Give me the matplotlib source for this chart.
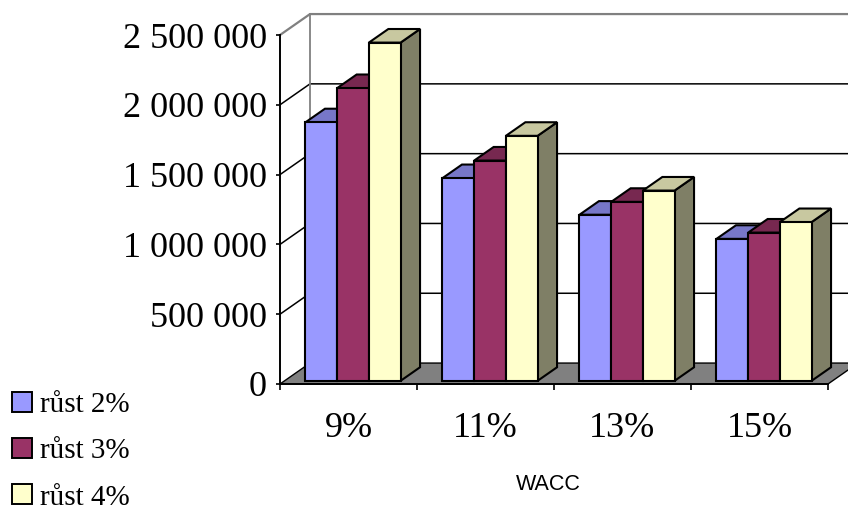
import matplotlib
matplotlib.use("Agg")
import matplotlib.pyplot as plt
from matplotlib.patches import Polygon, Patch
from matplotlib.ticker import FuncFormatter

# DCF value by WACC for three terminal growth rates
wacc = ["9%", "11%", "13%", "15%"]
series = ["růst 2%", "růst 3%", "růst 4%"]
rust_2 = [1852000, 1452000, 1190000, 1017000]
rust_3 = [2097000, 1578000, 1282000, 1062000]
rust_4 = [2423000, 1755000, 1363000, 1137000]
y_ticks = [0, 500000, 1000000, 1500000, 2000000, 2500000]

# excel-like 3d column palette: front, top, side
FRONT = ["#9999FF", "#993366", "#FFFFCC"]
TOP = ["#7777C8", "#772850", "#C8C8A0"]
SIDE = ["#4D4D80", "#4D1A33", "#7F7F66"]

SERIF = "Liberation Serif"
SANS = "Liberation Sans"

# oblique depth offset (in data units) of the back wall
DX, DY = 0.219, 150000
Z0, Z1 = 0.15, 0.80         # bar depth range
GROUP = 0.694               # width of a cluster of 3 bars
BW = GROUP / 3


def proj(x, v, z):
    return (x + z * DX, v + z * DY)


fig = plt.figure(figsize=(8.48, 5.13), dpi=100)
ax = fig.add_axes([280 / 848, 129 / 513, 548 / 848, 349 / 513])
ax.patch.set_visible(False)
ax.set_xlim(0, 4)
ax.set_ylim(0, 2500000)
ymax = y_ticks[-1]
ncat = len(wacc)

# walls and gridlines
far = 6
for v in y_ticks[1:-1]:
    ax.plot([0, DX, far], [v, v + DY, v + DY], color="black", lw=1.1,
            clip_on=False, zorder=0.5)
ax.plot([0, DX, far], [ymax, ymax + DY, ymax + DY], color="#808080", lw=1.6,
        clip_on=False, zorder=0.5)
ax.plot([DX, DX], [DY, ymax + DY], color="#808080", lw=1.3,
        clip_on=False, zorder=0.5)

# floor
floor = [proj(0, 0, 0), proj(ncat, 0, 0), proj(ncat, 0, 1), proj(0, 0, 1)]
ax.add_patch(Polygon(floor, closed=True, facecolor="#808080", edgecolor="black",
                     lw=1.0, clip_on=False, zorder=1))

# bars
vals = [rust_2, rust_3, rust_4]
z = 2
for i in range(ncat):
    x_start = i + (1 - GROUP) / 2
    for j, s in enumerate(vals):
        v = s[i]
        x0 = x_start + j * BW
        x1 = x0 + BW
        side = [proj(x1, 0, Z0), proj(x1, 0, Z1), proj(x1, v, Z1), proj(x1, v, Z0)]
        top = [proj(x0, v, Z0), proj(x1, v, Z0), proj(x1, v, Z1), proj(x0, v, Z1)]
        front = [proj(x0, 0, Z0), proj(x1, 0, Z0), proj(x1, v, Z0), proj(x0, v, Z0)]
        for poly, col in ((side, SIDE[j]), (top, TOP[j]), (front, FRONT[j])):
            ax.add_patch(Polygon(poly, closed=True, facecolor=col, edgecolor="black",
                                 lw=1.5, joinstyle="miter", clip_on=False, zorder=z))
            z += 0.01

# axes
for sp in ("top", "right"):
    ax.spines[sp].set_visible(False)
ax.spines["left"].set_linewidth(1.4)
ax.spines["bottom"].set_linewidth(1.4)
ax.spines["left"].set_zorder(5)
ax.spines["bottom"].set_zorder(5)

ax.set_yticks(y_ticks)
ax.yaxis.set_major_formatter(FuncFormatter(lambda v, p: f"{int(v):,}".replace(",", " ")))
ax.tick_params(axis="y", direction="out", length=3, width=1.2, pad=6.5,
               labelsize=26)
ax.set_xticks([i + 0.5 for i in range(ncat)])
ax.set_xticklabels(wacc)
ax.set_xticks(range(ncat + 1), minor=True)
ax.tick_params(axis="x", which="major", length=0, pad=20, labelsize=26)
ax.tick_params(axis="x", which="minor", direction="out", length=4, width=1.2)
for lab in ax.get_xticklabels() + ax.get_yticklabels():
    lab.set_family(SERIF)

ax.set_xlabel("WACC", family=SANS, fontsize=15.5)
ax.xaxis.set_label_coords(268 / 548, -90 / 349)

handles = [Patch(facecolor=c, edgecolor="black", lw=1.4) for c in FRONT]
fig.legend(handles, series, loc="lower left", bbox_to_anchor=(0.0, -0.018),
           frameon=False, prop={"family": SERIF, "size": 21},
           handlelength=0.68, handleheight=0.68, handletextpad=0.3,
           labelspacing=0.68, borderaxespad=0)

fig.savefig("out.png", dpi=100)
